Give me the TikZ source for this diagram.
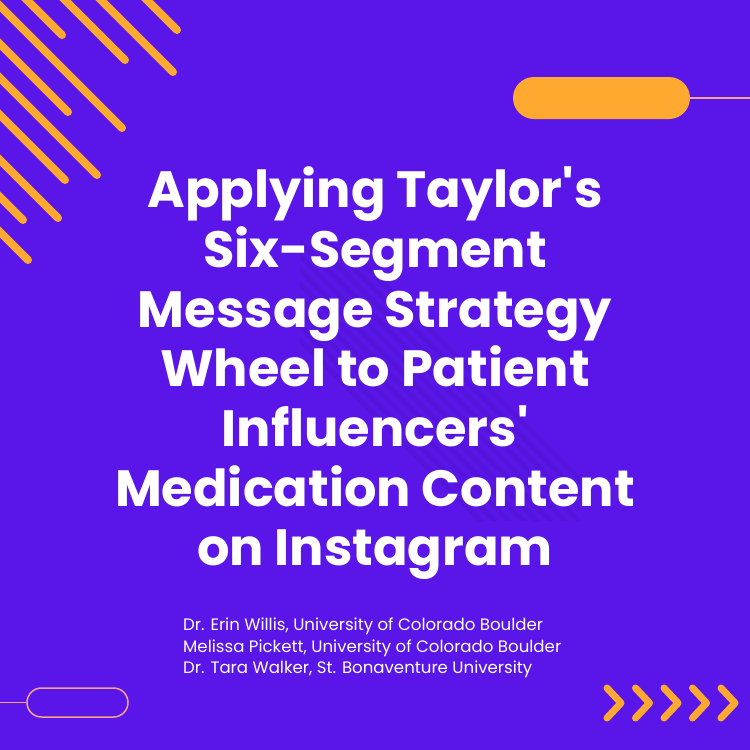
\documentclass[tikz,border=0pt]{standalone}
\usepackage{fontspec}
\setmainfont{Poppins}
\definecolor{bgpurple}{RGB}{90,22,232}
\definecolor{accent}{RGB}{255,169,49}
\definecolor{salmon}{RGB}{244,162,138}
\begin{document}
\begin{tikzpicture}[x=1pt,y=-1pt,
  stripe/.style={draw=accent,line width=8pt,line cap=round},
  ghost/.style={draw=black,opacity=0.05,line width=5pt},
  chev/.style={draw=accent,line width=7pt,line cap=round,line join=round},
  thinline/.style={draw=salmon,line width=1.5pt},
  titleline/.style={anchor=base,text=white,inner sep=0pt,font=\fontsize{51}{60}\selectfont\bfseries},
  authors/.style={anchor=north west,text=white,inner sep=0pt,align=left,font=\fontsize{16.6}{21.5}\selectfont}]
\fill[bgpurple] (0,0) rectangle (750,750);
\useasboundingbox (0,0) rectangle (750,750);
\begin{scope}
  \clip (0,0) rectangle (750,750);
  \foreach \c/\e in {-147/177,-101/173,-65/125,-27/62,6/122,44/68,78/97,115/65,160/58,197/23,232/28}
    \draw[stripe] (-20,-20+\c) -- (\e,\e+\c);
  \clip (300,240) rectangle (580,520);
  \foreach \c in {-100,-86,...,40}
    \draw[ghost] (250,250+\c) -- (600,600+\c);
\end{scope}
% top-right pill
\node[fill=accent,rounded corners=21pt,minimum width=177pt,minimum height=42pt,inner sep=0pt] (pillA) at (601.5,98) {};
\coordinate (edgeR) at (750,98);
\draw[thinline] (pillA.east) -- (edgeR);
% bottom-left pill
\node[draw=salmon,line width=1.5pt,rounded corners=14.5pt,minimum width=101pt,minimum height=29pt,inner sep=0pt] (pillB) at (77.5,702.5) {};
\coordinate (edgeL) at (0,702.5);
\draw[thinline] (edgeL) -- (pillB.west);
% chevrons
\foreach \i in {0,...,4}
  \draw[chev] (607+28.5*\i,688) -- (621+28.5*\i,703) -- (607+28.5*\i,718);
% title
\node[titleline] (t1) at (375,207) {Applying Taylor\textquotesingle s};
\node[titleline] (t2) at (375,267) {Six-Segment};
\node[titleline] (t3) at (375,327) {Message Strategy};
\node[titleline] (t4) at (375,386) {Wheel to Patient};
\node[titleline] (t5) at (375,446) {Influencers\textquotesingle};
\node[titleline] (t6) at (375,506) {Medication Content};
\node[titleline] (t7) at (375,565) {on Instagram};
% authors
\node[authors] (au) at (183,618) {Dr. Erin Willis, University of Colorado Boulder\\Melissa Pickett, University of Colorado Boulder\\Dr. Tara Walker, St. Bonaventure University};
\end{tikzpicture}
\end{document}
